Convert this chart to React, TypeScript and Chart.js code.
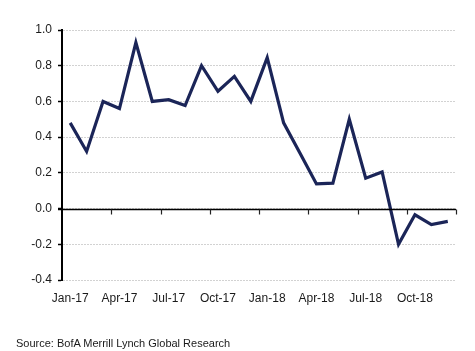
import React, { useEffect, useRef } from "react";
import { Chart, registerables } from "chart.js";

Chart.register(...registerables);

const months = [
  "Jan-17", "Feb-17", "Mar-17", "Apr-17", "May-17", "Jun-17", "Jul-17", "Aug-17", "Sep-17", "Oct-17", "Nov-17", "Dec-17",
  "Jan-18", "Feb-18", "Mar-18", "Apr-18", "May-18", "Jun-18", "Jul-18", "Aug-18", "Sep-18", "Oct-18", "Nov-18", "Dec-18",
];
const values = [
  0.48, 0.32, 0.6, 0.56, 0.93, 0.6, 0.61, 0.577, 0.8, 0.657, 0.74, 0.6,
  0.845, 0.48, 0.31, 0.138, 0.142, 0.5, 0.17, 0.205, -0.2, -0.035, -0.09, -0.072,
];
const yMin = -0.4;
const yMax = 1.0;
const yStep = 0.2;
const sourceText = "Source: BofA Merrill Lynch Global Research";

const FONT = "'Liberation Sans', Arial, sans-serif";

const zeroLinePlugin = {
  id: "zeroLine",
  afterDatasetsDraw(chart: any) {
    const { ctx, chartArea, scales } = chart;
    const y = Math.round(scales.y.getPixelForValue(0)) + 0.5;
    ctx.save();
    ctx.strokeStyle = "#000";
    ctx.lineWidth = 1.5;
    ctx.beginPath();
    ctx.moveTo(chartArea.left - 4, y);
    ctx.lineTo(chartArea.right, y);
    ctx.stroke();
    const n = months.length;
    const w = (chartArea.right - chartArea.left) / n;
    ctx.lineWidth = 1.2;
    ctx.strokeStyle = "#222";
    for (let k = 3; k <= n; k += 3) {
      const x = Math.round(chartArea.left + k * w) + 0.5;
      ctx.beginPath();
      ctx.moveTo(x, y);
      ctx.lineTo(x, y + 5);
      ctx.stroke();
    }
    ctx.restore();
  },
};

export default function App() {
  const ref = useRef<HTMLCanvasElement | null>(null);
  useEffect(() => {
    document.body.style.margin = "0";
    const canvas = ref.current!;
    const chart = new Chart(canvas, {
      type: "line",
      data: {
        labels: months,
        datasets: [
          {
            data: values,
            borderColor: "#1b2558",
            borderWidth: 3.2,
            borderJoinStyle: "miter",
            tension: 0,
            pointRadius: 0,
            fill: false,
          },
        ],
      },
      options: {
        animation: false,
        responsive: false,
        maintainAspectRatio: false,
        layout: { padding: { top: 30, right: 19, bottom: 0, left: 0 } },
        plugins: { legend: { display: false }, tooltip: { enabled: false }, title: { display: false } },
        scales: {
          x: {
            type: "category",
            offset: true,
            grid: { display: false, drawTicks: false, offset: true },
            border: { display: false },
            ticks: {
              autoSkip: false,
              maxRotation: 0,
              padding: 11,
              color: "#1a1a1a",
              font: { family: FONT, size: 12 },
              callback: (_v: any, i: number) => (i % 3 === 0 ? months[i] : ""),
            },
            afterFit: (s: any) => {
              s.height = 71;
            },
          },
          y: {
            min: yMin,
            max: yMax,
            ticks: {
              stepSize: yStep,
              padding: 6,
              color: "#1a1a1a",
              font: { family: FONT, size: 12 },
              callback: (v: any) => (Math.abs(v) < 1e-9 ? "0.0" : Number(v).toFixed(1)),
            },
            grid: {
              color: "#d2d2d2",
              lineWidth: 1,
              drawTicks: true,
              tickLength: 4,
              tickColor: "#000",
              tickWidth: 1.5,
            },
            border: { display: true, color: "#000", width: 2, dash: [2, 1] },
            afterFit: (s: any) => {
              s.width = 62;
            },
          },
        },
      },
      plugins: [zeroLinePlugin],
    });
    return () => chart.destroy();
  }, []);

  return (
    <div style={{ position: "relative", width: 475, height: 351 }}>
      <canvas ref={ref} width={475} height={351} style={{ display: "block" }} />
      <div
        style={{
          position: "absolute",
          left: 16,
          top: 336,
          fontFamily: FONT,
          fontSize: 11,
          color: "#1a1a1a",
          whiteSpace: "nowrap",
          lineHeight: "14px",
        }}
      >
        {sourceText}
      </div>
    </div>
  );
}
